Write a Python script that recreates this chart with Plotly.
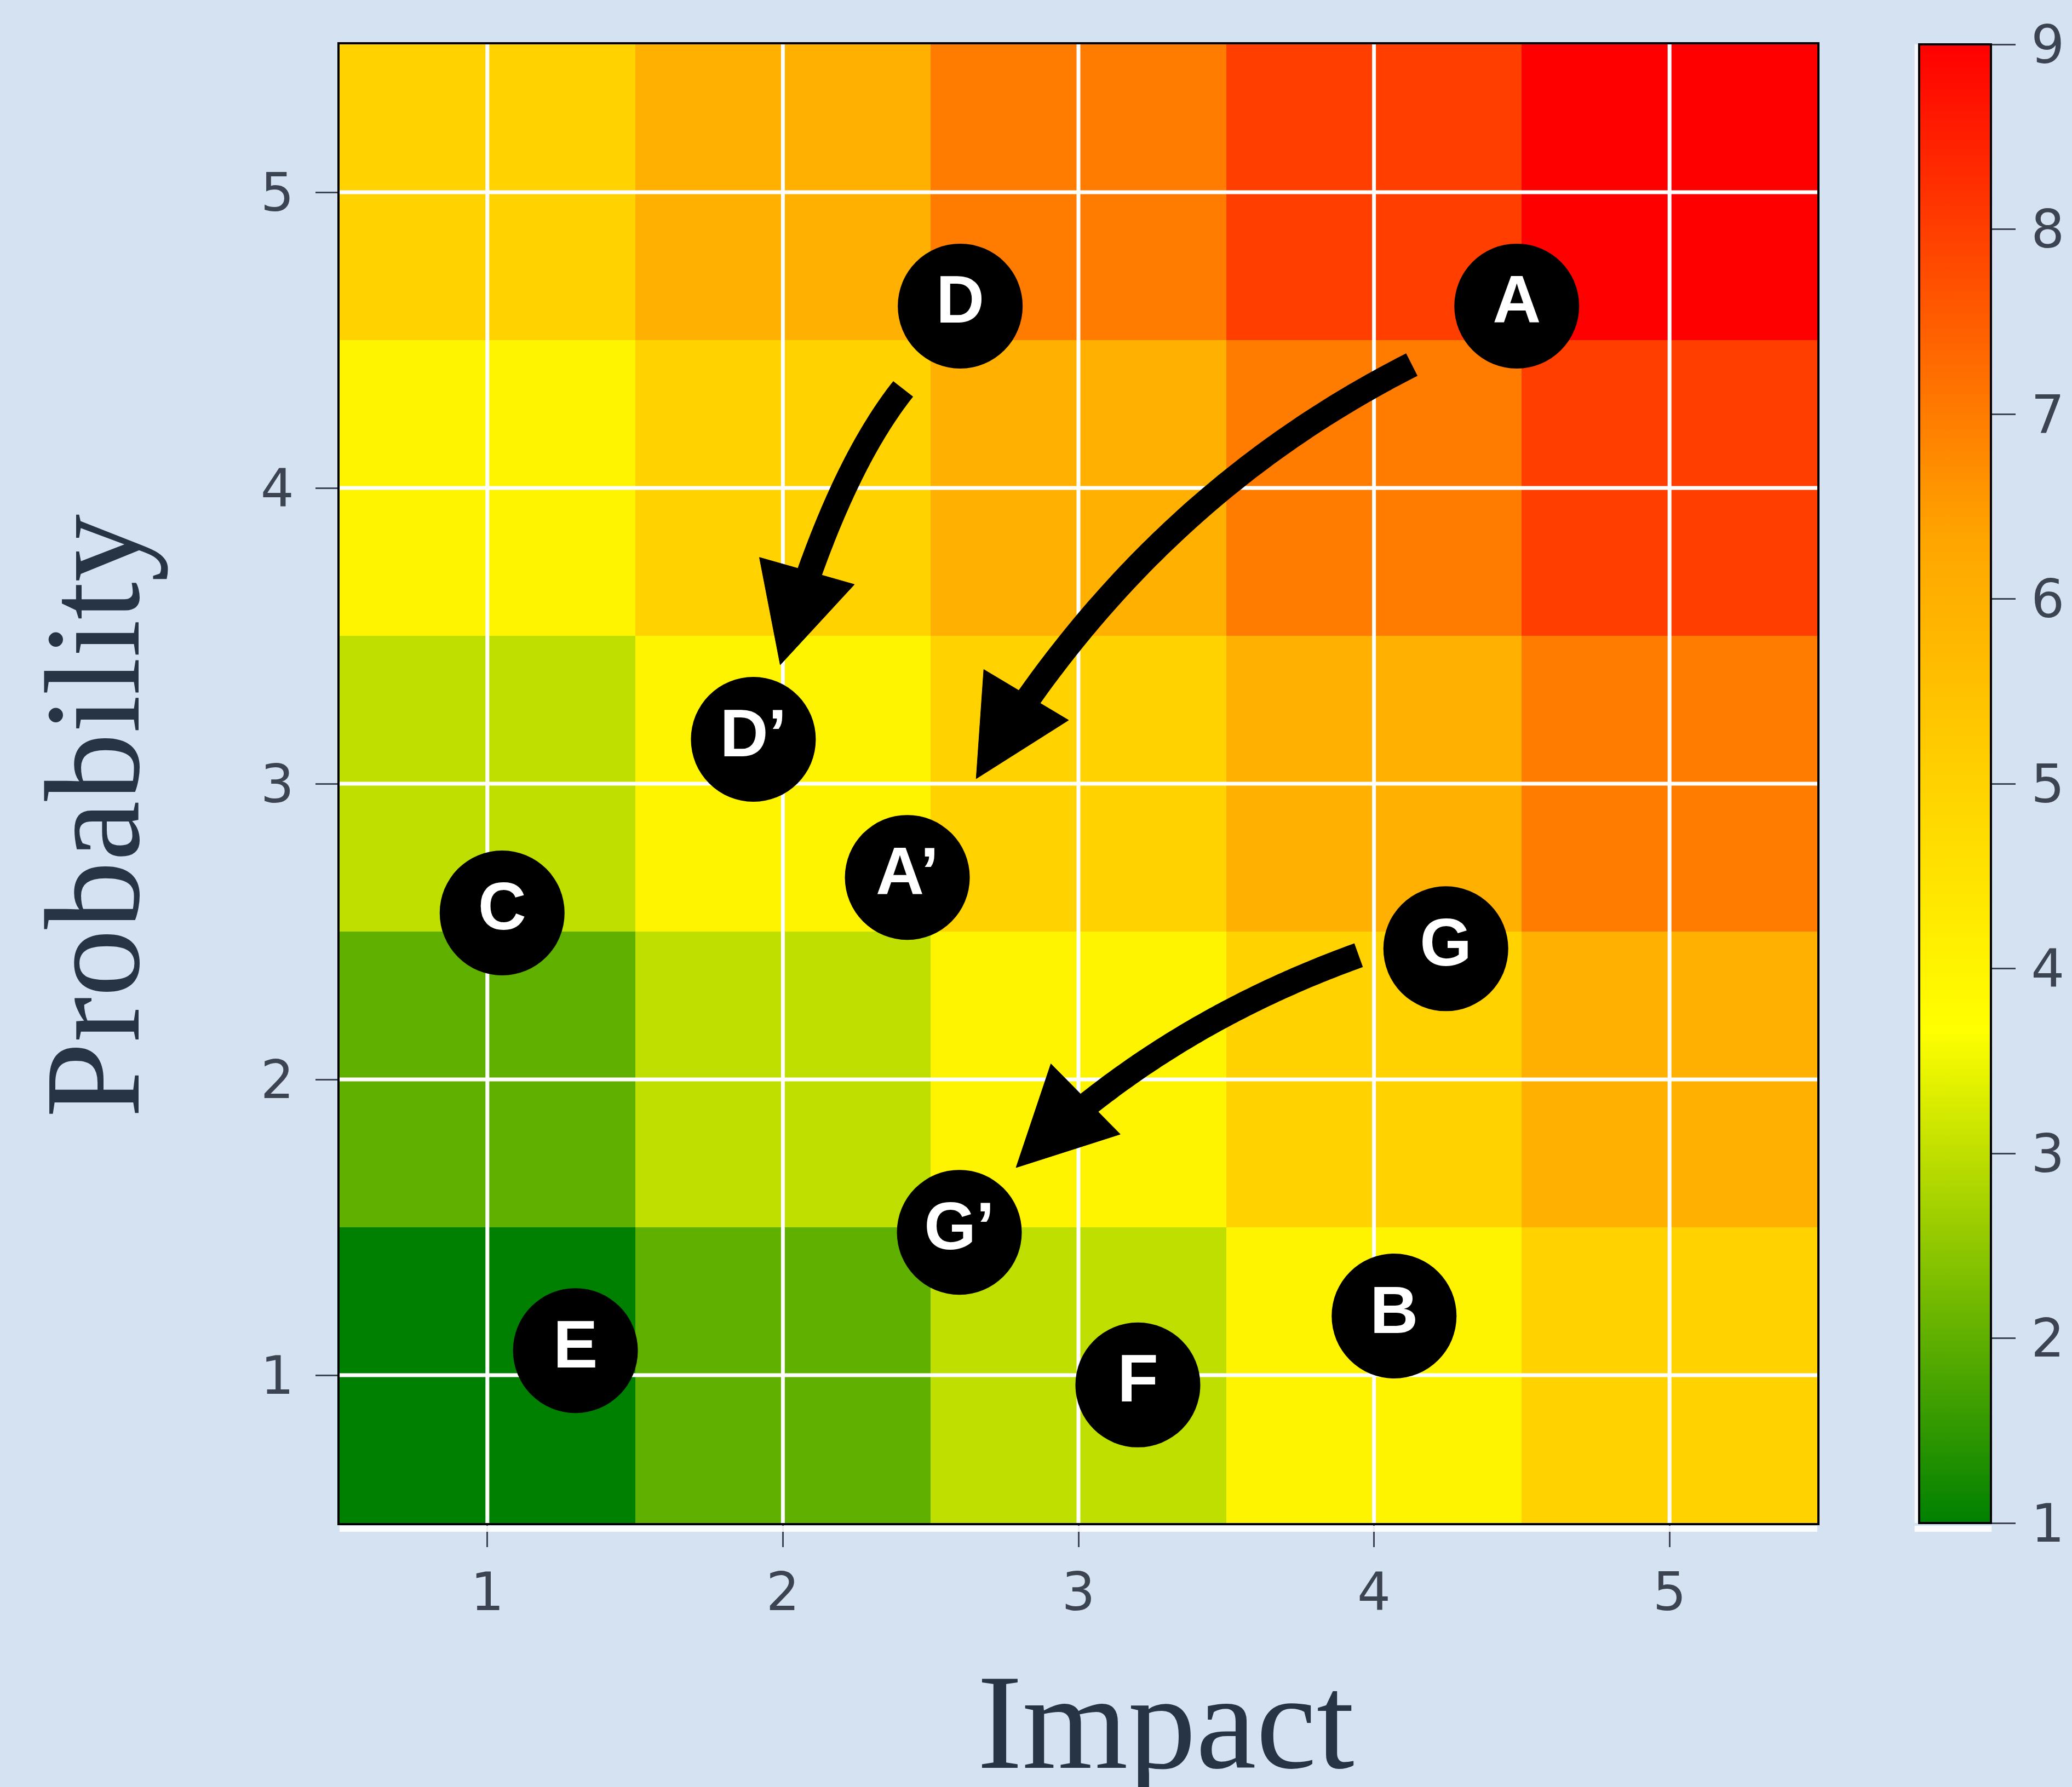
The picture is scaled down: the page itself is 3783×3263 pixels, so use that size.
import numpy as np
import plotly.graph_objects as go

# ---------------- data ----------------
impact = [1, 2, 3, 4, 5]
probability = [1, 2, 3, 4, 5]
# risk score per cell (rows = probability 1..5, cols = impact 1..5)
risk_score = [
    [1, 2, 3, 4, 5],
    [2, 3, 4, 5, 6],
    [3, 4, 5, 6, 7],
    [4, 5, 6, 7, 8],
    [5, 6, 7, 8, 9],
]
colorbar_ticks = [1, 2, 3, 4, 5, 6, 7, 8, 9]

risk_labels = ["A", "D", "D’", "A’", "C", "G", "G’", "E", "B", "F"]
risk_impact = [4.483, 2.600, 1.900, 2.421, 1.050, 4.243, 2.597, 1.298, 4.068, 3.201]
risk_probability = [4.615, 4.615, 3.150, 2.683, 2.563, 2.442, 1.483, 1.083, 1.200, 0.967]

# curved movement arrows: D -> D', A -> A', G -> G'
arrow_from_impact = [2.407, 4.128, 3.948]
arrow_from_prob = [4.335, 4.417, 2.420]
arrow_bend_impact = [2.172, 3.213, 3.270]
arrow_bend_prob = [4.039, 3.954, 2.176]
arrow_to_impact = [1.991, 2.654, 2.789]
arrow_to_prob = [3.402, 3.017, 1.702]

# ---------------- style ----------------
W, H = 3783, 3263
ML, MR, MT, MB = 620, 459, 81, 482
BG = "#d5e2f1"
TICK_COLOR = "#3c4452"
TITLE_COLOR = "#263445"
HEAD_LEN = 0.33
HEAD_HALF_W = 0.167
SHAFT_W = 46

colorscale = [[0.0, "#008000"], [1 / 3, "#ffff00"], [2 / 3, "#ffa500"], [1.0, "#ff0000"]]

pw = W - ML - MR
ph = H - MT - MB

fig = go.Figure()

fig.add_trace(go.Heatmap(
    x=impact, y=probability, z=risk_score,
    zmin=1, zmax=9, colorscale=colorscale, hoverinfo="skip",
    colorbar=dict(
        x=(3510 - ML) / pw, xanchor="left", xpad=0,
        y=0.5, yanchor="middle", ypad=0, len=1.0, lenmode="fraction",
        thickness=131, thicknessmode="pixels",
        outlinecolor="black", outlinewidth=4,
        tickmode="array", tickvals=colorbar_ticks,
        ticktext=["\u200a" + str(v) for v in colorbar_ticks],
        ticks="outside", ticklen=43, tickwidth=3, tickcolor=TICK_COLOR,
        tickfont=dict(family="DejaVu Sans", size=96, color=TICK_COLOR),
    ),
))

# white grid lines drawn over the heatmap at the tick positions
gx, gy = [], []
for v in impact:
    gx += [v, v, None]
    gy += [0.5, 5.5, None]
for v in probability:
    gx += [0.5, 5.5, None]
    gy += [v, v, None]
fig.add_trace(go.Scatter(x=gx, y=gy, mode="lines", hoverinfo="skip",
                         line=dict(color="white", width=7), showlegend=False))

# risk markers
fig.add_trace(go.Scatter(
    x=risk_impact, y=risk_probability, mode="markers+text", text=risk_labels,
    textposition="middle center", hoverinfo="skip", showlegend=False,
    marker=dict(size=228, color="black", line=dict(width=0)),
    textfont=dict(family="Liberation Sans, Arial", size=122, color="white", weight="bold"),
))

# curved arrows (quadratic curves) with triangular heads
shapes = []
for i in range(len(arrow_from_impact)):
    p0 = np.array([arrow_from_impact[i], arrow_from_prob[i]])
    c = np.array([arrow_bend_impact[i], arrow_bend_prob[i]])
    p2 = np.array([arrow_to_impact[i], arrow_to_prob[i]])
    u = (p2 - c) / np.linalg.norm(p2 - c)
    n = np.array([-u[1], u[0]])
    base = p2 - HEAD_LEN * u
    ts = np.linspace(0, 1, 120)
    pts = [(1 - t) ** 2 * p0 + 2 * (1 - t) * t * c + t ** 2 * p2 for t in ts]
    pts = [p for p in pts if np.linalg.norm(p - p2) >= HEAD_LEN * 0.8]
    path = "M " + " L ".join(f"{p[0]:.4f},{p[1]:.4f}" for p in pts)
    shapes.append(dict(type="path", path=path, xref="x", yref="y",
                       line=dict(color="black", width=SHAFT_W), layer="above"))
    c1 = base + HEAD_HALF_W * n
    c2 = base - HEAD_HALF_W * n
    head = f"M {p2[0]:.4f},{p2[1]:.4f} L {c1[0]:.4f},{c1[1]:.4f} L {c2[0]:.4f},{c2[1]:.4f} Z"
    shapes.append(dict(type="path", path=head, xref="x", yref="y",
                       fillcolor="black", line=dict(color="black", width=1), layer="above"))

# faint white edges of the original picture under the plot and colorbar
shapes.append(dict(type="rect", xref="paper", yref="paper", x0=0, x1=1,
                   y0=-16 / ph, y1=-5 / ph, fillcolor="white", line=dict(width=0), opacity=0.9))
shapes.append(dict(type="rect", xref="paper", yref="paper", x0=(3502 - ML) / pw, x1=(3643 - ML) / pw,
                   y0=-16 / ph, y1=-5 / ph, fillcolor="white", line=dict(width=0), opacity=0.9))
shapes.append(dict(type="rect", xref="paper", yref="paper", x0=(3502 - ML) / pw, x1=(3508 - ML) / pw,
                   y0=0, y1=1, fillcolor="white", line=dict(width=0), opacity=0.8))

axis_common = dict(
    range=[0.5, 5.5], tickmode="array", ticks="outside", ticklen=40, tickwidth=3,
    tickcolor=TICK_COLOR, showgrid=False, zeroline=False,
    showline=True, linecolor="black", linewidth=4, mirror=True,
    tickfont=dict(family="DejaVu Sans", size=96, color=TICK_COLOR),
)

fig.update_layout(
    width=W, height=H,
    margin=dict(l=ML, r=MR, t=MT, b=MB, pad=0),
    paper_bgcolor=BG, plot_bgcolor=BG,
    xaxis=dict(tickvals=impact, **axis_common),
    yaxis=dict(tickvals=probability, ticklabelstandoff=20, **axis_common),
    shapes=shapes,
    showlegend=False,
    annotations=[
        dict(text="Impact", xref="paper", yref="paper", x=(2132 - ML) / pw, y=-(3144 - (H - MB)) / ph,
             xanchor="center", yanchor="middle", showarrow=False,
             font=dict(family="Liberation Serif", size=248, color=TITLE_COLOR)),
        dict(text="Probability", xref="paper", yref="paper", x=(169 - ML) / pw, y=((H - MB) - 1490) / ph,
             xanchor="center", yanchor="middle", showarrow=False, textangle=-90,
             font=dict(family="Liberation Serif", size=248, color=TITLE_COLOR)),
    ],
)

fig.write_html(
    "out.html",
    config={"displayModeBar": False},
    post_script="document.body.style.margin='0';document.body.style.background='" + BG + "';",
)
